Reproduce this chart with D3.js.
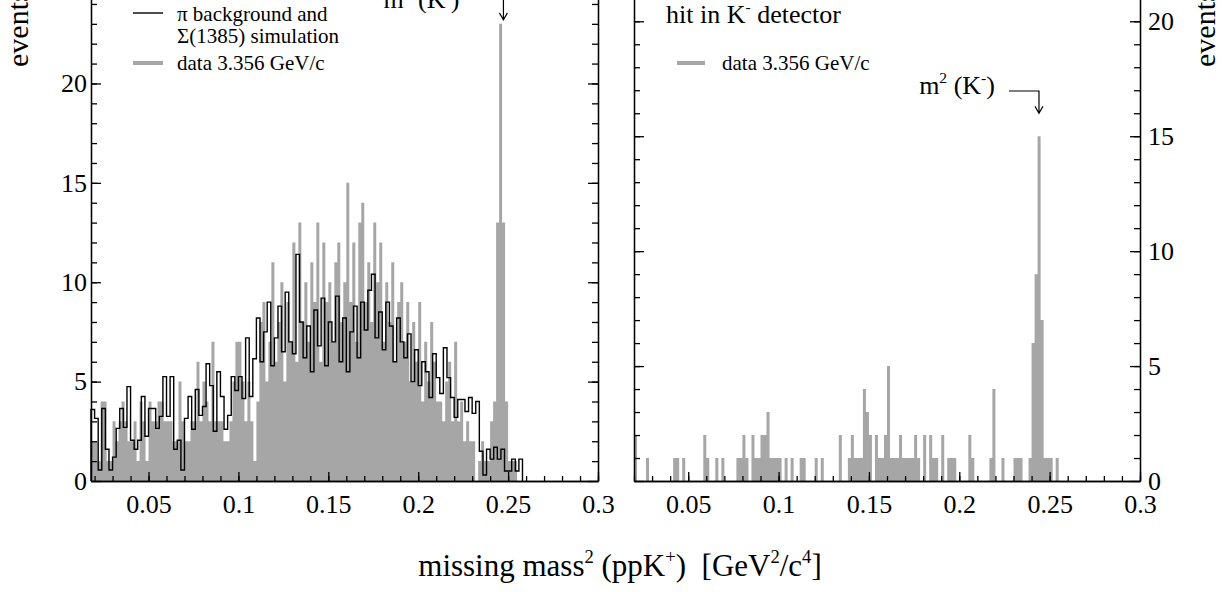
<!DOCTYPE html>
<html>
<head>
<meta charset="utf-8">
<script src="https://cdn.jsdelivr.net/npm/d3@7"></script>
<style>
body { margin: 0; background: #fff; }
</style>
</head>
<body>
<div id="chart"></div>
<script>
// binning of the histograms (GeV^2/c^4)
var dataBinWidth = 1 / 600
var dataStartLeft = 0.018333
var dataStartRight = 0.02
var simBinWidth = 0.002
var simStartLeft = 0.018

// data 3.356 GeV/c, all events (left panel), counts per bin
var dataLeft = [
  2,2,1,4,4,1,1,3,2,3, 4,3,2,2,3,1,4,3,1,4, 3,3,4,4,3,3,3,2,2,5,
  3,2,2,3,3,6,3,5,4,3, 7,3,3,3,2,2,3,5,7,7, 5,3,5,3,1,
  4,8,9,5,7,11,6,8,10,5,9,7,
  12,6,13,8,10,7,11,9,13,6,12,9,
  10,7,11,12,8,10,15,9,12,7,13,14,
  9,11,8,13,10,12,7,10,8,11,6,9,
  10,7,9,5,8,6,9,4,7,5,8,6,
  4,
  4,3,5,6,3,7,3,4,2,3,2,2,0,1,2,1,1,3,4,13,23,13,4,1,1,1
]

// pi background + Sigma(1385) simulation (left panel)
var simLeft = [
  3.6,3.15,0.55,3.65,1.6,0.55,1.2,2.65,3.65,2.7,
  4.75,2.05,1.6,2.05,4.25,2.25,3.65,3.65,2.65,3.25,
  5.25,3.25,5.25,1.6,2.05,0.55,3.15,4.25,2.6,4.6,
  3.3,3.75,5.9,4.8,2.5,5.5,4.25,2.6,3.3,5.25,
  4.55,5.25,4.15,7.2,4.25,6.15,
  8.2,6.0,7.5,9.0,5.8,7.2,8.8,6.5,9.5,7.0,6.4,
  11.4,8.0,6.2,7.8,5.5,8.6,6.8,9.2,5.8,8.0,
  7.0,9.3,6.0,8.2,5.5,7.5,8.8,6.2,9.0,7.6,
  9.6,10.4,7.2,8.5,6.6,9.0,7.8,6.0,8.2,7.0,
  6.2,7.4,5.0,6.6,4.8,6.0,5.5,4.2,6.4,5.2,
  4.4,6.7,5.2,4.2,3.2,4.1,4.1,3.5,4.2,3.4,4.0,
  1.5,0.3,1.6,1.1,1.7,1.1,1.6,0.5,0.5,1.1,0.5,1.1
]

// data 3.356 GeV/c with hit in K- detector (right panel)
var dataRight = [
  2,0,0,0,1,0,0,0,0,0, 0,0,0,1,1,0,1,0,0,0, 0,0,0,2,1,0,0,1,0,1,
  0,0,0,0,1,1,2,1,0,2, 1,1,2,2,3,1,1,1,1,0, 1,0,1,0,0,1,1,0,0,0,
  1,0,1,0,0,0,0,0,2,0, 0,1,2,1,1,1,4,3,2,0, 2,1,1,2,5,1,1,1,2,1,
  1,1,1,2,1,0,2,0,2,1, 1,0,2,0,1,1,1,0,0,0, 0,2,1,0,0,0,0,0,1,4,
  0,0,1,0,0,0,1,1,1,0, 0,1,6,9,15,7,1,1,1,0,1
]

var arrowX = [0.2474, 0.2441]
var arrowTip = [23.2, 16]

var xTicks = [0.05, 0.1, 0.15, 0.2, 0.25, 0.3]
var xTickLabels = ['0.05', '0.1', '0.15', '0.2', '0.25', '0.3']
var yTicks = [0, 5, 10, 15, 20]
var yTickLabels = ['0', '5', '10', '15', '20']

var serif = '"Liberation Serif", "Times New Roman", Times, serif'
var grey = '#a6a6a6'

var svg = d3.select('#chart')
    .append('svg')
    .attr('width', 1222)
    .attr('height', 592)

var xLeft = d3.scaleLinear().domain([0.018, 0.3]).range([91, 598])
var xRight = d3.scaleLinear().domain([0.02, 0.3]).range([634, 1140])
var yLeft = d3.scaleLinear().domain([0, 24.4]).range([481, -4])
var yRight = d3.scaleLinear().domain([0, 21.1]).range([481, -4])

// puntos de un histograma escalonado: [borde izquierdo, contenido]
function stepPoints(values, start, w) {
    var pts = values.map((v, i) => [start + i * w, v])
    pts.push([start + values.length * w, values[values.length - 1]])
    return pts
}

//histograma de datos relleno en gris
function drawBars(values, start, x, y) {
    var area = d3.area()
        .x(d => x(d[0]))
        .y0(y(0))
        .y1(d => y(d[1]))
        .curve(d3.curveStepAfter)
    svg.append('path')
        .attr('d', area(stepPoints(values, start, dataBinWidth)))
        .attr('fill', grey)
}

//histograma de simulacion como linea escalonada
function drawSim(values, start, x, y) {
    var pts = stepPoints(values, start, simBinWidth)
    pts.unshift([start, 0])
    pts.push([pts[pts.length - 1][0], 0])
    var line = d3.line()
        .x(d => x(d[0]))
        .y(d => y(d[1]))
        .curve(d3.curveStepAfter)
    svg.append('path')
        .attr('d', line(pts))
        .attr('fill', 'none')
        .attr('stroke', '#000')
        .attr('stroke-width', 1.4)
}

function styleAxis(g, size) {
    g.attr('font-family', serif).attr('font-size', size)
    g.selectAll('path, line').attr('stroke', '#000').attr('stroke-width', 1.3)
    g.selectAll('text').attr('fill', '#000')
}

function drawFrame(x, y, yMax, labelsRight) {
    var x0 = x.range()[0]
    var x1 = x.range()[1]
    var y0 = y(0)
    var minorX = d3.range(0.02, 0.3001, 0.01)
    var minorY = d3.range(1, yMax + 1)

    var bottom = svg.append('g').attr('transform', 'translate(0,' + y0 + ')')
    bottom.call(d3.axisBottom(x).tickValues(minorX).tickSizeInner(-5).tickSizeOuter(0).tickFormat(''))
    styleAxis(bottom, 26)
    var bottomMajor = svg.append('g').attr('transform', 'translate(0,' + y0 + ')')
    bottomMajor.call(d3.axisBottom(x).tickValues(xTicks).tickSizeInner(-9).tickSizeOuter(0)
        .tickPadding(14).tickFormat((d, i) => xTickLabels[i]))
    styleAxis(bottomMajor, 26)

    var sides = [
        {pos: x0, axis: d3.axisLeft, labels: !labelsRight, pad: 4},
        {pos: x1, axis: d3.axisRight, labels: labelsRight, pad: 8}
    ]
    sides.forEach(s => {
        var gMinor = svg.append('g').attr('transform', 'translate(' + s.pos + ',0)')
        gMinor.call(s.axis(y).tickValues(minorY).tickSizeInner(-6).tickSizeOuter(0).tickFormat(''))
        styleAxis(gMinor, 26)
        var gMajor = svg.append('g').attr('transform', 'translate(' + s.pos + ',0)')
        gMajor.call(s.axis(y).tickValues(yTicks).tickSizeInner(-10).tickSizeOuter(0).tickPadding(s.pad)
            .tickFormat((d, i) => s.labels ? yTickLabels[i] : ''))
        styleAxis(gMajor, 26)
    })
}

// texto con superindices: parts = [[texto, esSuperindice], ...]
function addText(x, y, parts, size, anchor) {
    var t = svg.append('text')
        .attr('x', x)
        .attr('y', y)
        .attr('font-family', serif)
        .attr('font-size', size)
        .attr('fill', '#000')
        .style('white-space', 'pre')
    if (anchor) t.attr('text-anchor', anchor)
    var shift = 0
    parts.forEach(p => {
        var target = p[1] ? -size * 0.42 : 0
        t.append('tspan')
            .attr('dy', target - shift)
            .attr('font-size', p[1] ? size * 0.6 : size)
            .text(p[0])
        shift = target
    })
    return t
}

function drawArrow(xv, tip, x, y, armY, labelY) {
    var ax = x(xv)
    var ty = y(tip)
    svg.append('path')
        .attr('d', 'M' + (ax - 30) + ',' + armY + 'H' + ax + 'V' + ty
            + 'M' + (ax - 4) + ',' + (ty - 7) + 'L' + ax + ',' + ty + 'L' + (ax + 4) + ',' + (ty - 7))
        .attr('fill', 'none')
        .attr('stroke', '#000')
        .attr('stroke-width', 1.2)
    addText(ax - 44, labelY, [['m', 0], ['2', 1], [' (K', 0], ['-', 1], [')', 0]], 26, 'end')
}

//panel izquierdo
drawBars(dataLeft, dataStartLeft, xLeft, yLeft)
drawSim(simLeft, simStartLeft, xLeft, yLeft)
drawFrame(xLeft, yLeft, 24, false)

//panel derecho
drawBars(dataRight, dataStartRight, xRight, yRight)
drawFrame(xRight, yRight, 21, true)

//flechas m2(K-)
drawArrow(arrowX[0], arrowTip[0], xLeft, yLeft, -3, 8)
drawArrow(arrowX[1], arrowTip[1], xRight, yRight, 91, 94)

//leyendas
svg.append('line').attr('x1', 133).attr('x2', 163).attr('y1', 13).attr('y2', 13)
    .attr('stroke', '#000').attr('stroke-width', 1.4)
addText(177, 21, [['\u03c0 background and', 0]], 21)
addText(177, 43, [['\u03a3(1385) simulation', 0]], 21)
svg.append('line').attr('x1', 133).attr('x2', 163).attr('y1', 63).attr('y2', 63)
    .attr('stroke', grey).attr('stroke-width', 4)
addText(177, 70, [['data 3.356 GeV/c', 0]], 21)

addText(666, 23, [['hit in K', 0], ['-', 1], [' detector', 0]], 26)
svg.append('line').attr('x1', 677).attr('x2', 705).attr('y1', 63).attr('y2', 63)
    .attr('stroke', grey).attr('stroke-width', 4)
addText(722, 70, [['data 3.356 GeV/c', 0]], 21)

//titulos de ejes
addText(620, 576, [['missing mass', 0], ['2', 1], [' (ppK', 0], ['+', 1], [')  [GeV', 0],
    ['2', 1], ['/c', 0], ['4', 1], [']', 0]], 31, 'middle')

svg.append('text').attr('transform', 'translate(28,67) rotate(-90)')
    .attr('font-family', serif).attr('font-size', 30).text('events')
svg.append('text').attr('transform', 'translate(1215,67) rotate(-90)')
    .attr('font-family', serif).attr('font-size', 30).text('events')
</script>
</body>
</html>
